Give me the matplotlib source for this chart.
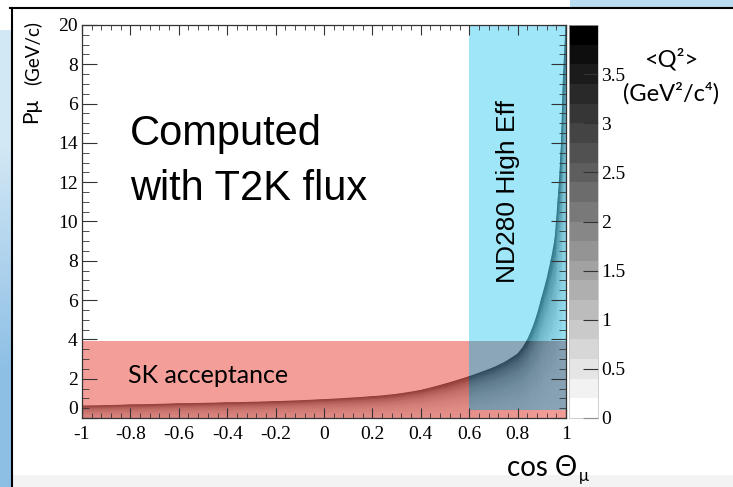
import numpy as np
import matplotlib
matplotlib.use('Agg')
import matplotlib.pyplot as plt
from matplotlib.patches import Rectangle
from matplotlib.colors import BoundaryNorm, Normalize
from matplotlib.cm import ScalarMappable

# borde superior de la region con datos
cos_edge = [-1.0, -0.8, -0.6, -0.4, -0.2, 0.0, 0.2, 0.3, 0.4, 0.5, 0.6, 0.7, 0.75,
            0.8, 0.82, 0.84, 0.86, 0.88, 0.9, 0.92, 0.94, 0.955, 0.97, 0.98, 0.99, 1.0]
p_max = [0.6, 0.66, 0.72, 0.77, 0.83, 0.93, 1.08, 1.2, 1.4, 1.72, 2.1, 2.55, 2.85,
         3.25, 3.55, 3.95, 4.5, 5.2, 6.1, 7.0, 8.1, 9.1, 11.5, 13.5, 17.5, 20.0]
# <Q2> junto al borde y en p=0 para cada columna
q2_top = [3.3, 3.3, 3.3, 3.3, 3.3, 3.3, 3.4, 3.4, 3.4, 3.5, 3.5, 3.6, 3.6,
          3.7, 3.7, 3.8, 3.8, 3.9, 3.9, 3.9, 3.9, 3.9, 3.9, 3.9, 3.9, 3.9]
q2_bot = [0.9, 0.9, 0.85, 0.8, 0.75, 0.7, 0.6, 0.55, 0.5, 0.45, 0.4, 0.3, 0.25,
          0.2, 0.2, 0.15, 0.1, 0.1, 0.05, 0.0, 0.0, 0.0, 0.0, 0.0, 0.0, 0.0]
# perfil vertical (fraccion de p_max -> peso)
frac = [0.0, 0.3, 0.55, 0.75, 0.9, 1.0]
prof = [0.0, 0.1, 0.25, 0.45, 0.7, 1.0]

yticks = [0, 2, 4, 6, 8, 10, 12, 14, 16, 18, 20]
ylabels = ['0', '2', '4', '6', '8', '10', '12', '14', '6', '8', '20']
xticks = [-1, -0.8, -0.6, -0.4, -0.2, 0, 0.2, 0.4, 0.6, 0.8, 1]
xlabels = ['-1', '-0.8', '-0.6', '-0.4', '-0.2', '0', '0.2', '0.4', '0.6', '0.8', '1']
cb_ticks = [0, 0.5, 1, 1.5, 2, 2.5, 3, 3.5]
cb_labels = ['0', '0.5', '1', '1.5', '2', '2.5', '3', '3.5']

W, H = 733, 487
fig = plt.figure(figsize=(W / 100, H / 100), dpi=100)

def fx(x):
    return x / W

def fy(y):
    return 1 - y / H

serif = 'Liberation Serif'
sans = ['Lato', 'DejaVu Sans']

# fondo tipo diapositiva
fig.add_artist(Rectangle((fx(570), fy(7)), fx(163), 7 / H, color='#b9dcf0', lw=0))
fig.add_artist(Rectangle((fx(13), 0), 1, 12 / H, color='#f3f3f3', lw=0))
gax = fig.add_axes([0, 0, 11 / W, fy(30)])
gax.imshow([[0.0], [1.0]], cmap=matplotlib.colors.LinearSegmentedColormap.from_list(
    'g', ['#d3e8f5', '#8dbfe5']), aspect='auto', interpolation='bilinear',
    extent=[0, 1, 0, 1], origin='upper')
gax.axis('off')
fig.add_artist(plt.Line2D([fx(10), 1], [fy(8), fy(8)], color='black', lw=1.5))
fig.add_artist(plt.Line2D([fx(12), fx(12)], [fy(8), 0], color='black', lw=1.5))

ax = fig.add_axes([fx(82), fy(418), 484 / W, 393 / H])
ax.set_facecolor('white')

X = np.array([cos_edge for f in frac])
Y = np.array([[f * p for p in p_max] for f in frac])
C = np.array([[b + (t - b) * w for t, b in zip(q2_top, q2_bot)] for w in prof])
ax.pcolormesh(X, Y, C, shading='gouraud', cmap='gray_r', norm=Normalize(0, 4), zorder=0.5)

# zonas de aceptancia
red = (0.92, 0.31, 0.27)
cyan = (0.316, 0.829, 0.957)
over = (0.235, 0.418, 0.537)
ax.add_patch(Rectangle((-1, 0), 1.6, 3.9, color=red, alpha=0.55, lw=0, zorder=1))
ax.add_patch(Rectangle((0.6, 0), 0.4, 0.4, color=red, alpha=0.55, lw=0, zorder=1))
ax.add_patch(Rectangle((0.6, 0.4), 0.4, 3.5, color=over, alpha=0.6, lw=0, zorder=1))
ax.add_patch(Rectangle((0.6, 3.9), 0.4, 16.1, color=cyan, alpha=0.55, lw=0, zorder=1))

ax.set_xlim(-1, 1)
ax.set_ylim(0, 20)
ax.set_xticks(xticks)
ax.set_xticklabels(xlabels, fontfamily=serif, fontsize=14)
ax.set_xticks(np.arange(-1, 1.001, 0.04), minor=True)
ax.set_yticks(yticks)
ax.set_yticklabels(ylabels, fontfamily=serif, fontsize=14)
ax.set_yticks(np.arange(0, 20.01, 0.5), minor=True)
ax.tick_params(axis='x', which='major', direction='in', length=7, width=0.8,
               top=True, pad=6, color='#333333')
ax.tick_params(axis='x', which='minor', direction='in', length=3.5, width=0.6,
               top=True, color='#333333')
ax.tick_params(axis='y', which='major', direction='in', length=11, width=0.8,
               right=True, pad=3, color='#333333')
ax.tick_params(axis='y', which='minor', direction='in', length=5, width=0.6,
               right=True, color='#333333')
ax.get_yticklabels()[0].set_verticalalignment('bottom')
for s in ax.spines.values():
    s.set_linewidth(0.9)
    s.set_color('#333333')

ax.text(-0.802, 13.9, 'Computed', fontfamily='Liberation Sans', fontsize=30, va='baseline')
ax.text(-0.802, 11.1, 'with T2K flux', fontfamily='Liberation Sans', fontsize=30,
        va='baseline')
ax.text(-0.81, 1.78, 'SK acceptance', fontfamily=sans, fontsize=18, va='baseline')
ax.text(0.76, 11.5, 'ND280 High Eff', fontfamily='Liberation Sans', fontsize=19,
        rotation=90, ha='center', va='center')

# barra de color
cax = fig.add_axes([fx(569), fy(418), 29 / W, 393 / H])
levels = np.arange(0, 4.001, 0.2)
sm = ScalarMappable(norm=BoundaryNorm(levels, 256), cmap='gray_r')
cb = fig.colorbar(sm, cax=cax, ticks=cb_ticks)
cb.ax.set_yticklabels(cb_labels, fontfamily=serif, fontsize=14)
cb.ax.tick_params(direction='in', length=11, width=0.8, pad=2, color='#333333')
cb.ax.minorticks_off()
cb.outline.set_linewidth(0.5)
cb.outline.set_edgecolor('#bbbbbb')

# etiquetas de los ejes
fig.text(fx(671), fy(66), '<Q²>', fontfamily=sans, fontsize=17, ha='center',
         va='baseline')
fig.text(fx(671), fy(101), '(GeV²/c⁴)', fontfamily=sans, fontsize=17, ha='center',
         va='baseline')
fig.text(fx(507), fy(476), 'cos Θ', fontfamily=sans, fontsize=20, va='baseline')
fig.text(fx(579), fy(481), 'μ', fontfamily=sans, fontsize=12, va='baseline')
fig.text(fx(37), fy(123), 'Pμ', fontfamily=sans, fontsize=15, rotation=90,
         rotation_mode='anchor', ha='left', va='baseline')
fig.text(fx(38), fy(85), '(GeV/c)', fontfamily=sans, fontsize=13.5, rotation=90,
         rotation_mode='anchor', ha='left', va='baseline')

fig.savefig('out.png', dpi=100)
